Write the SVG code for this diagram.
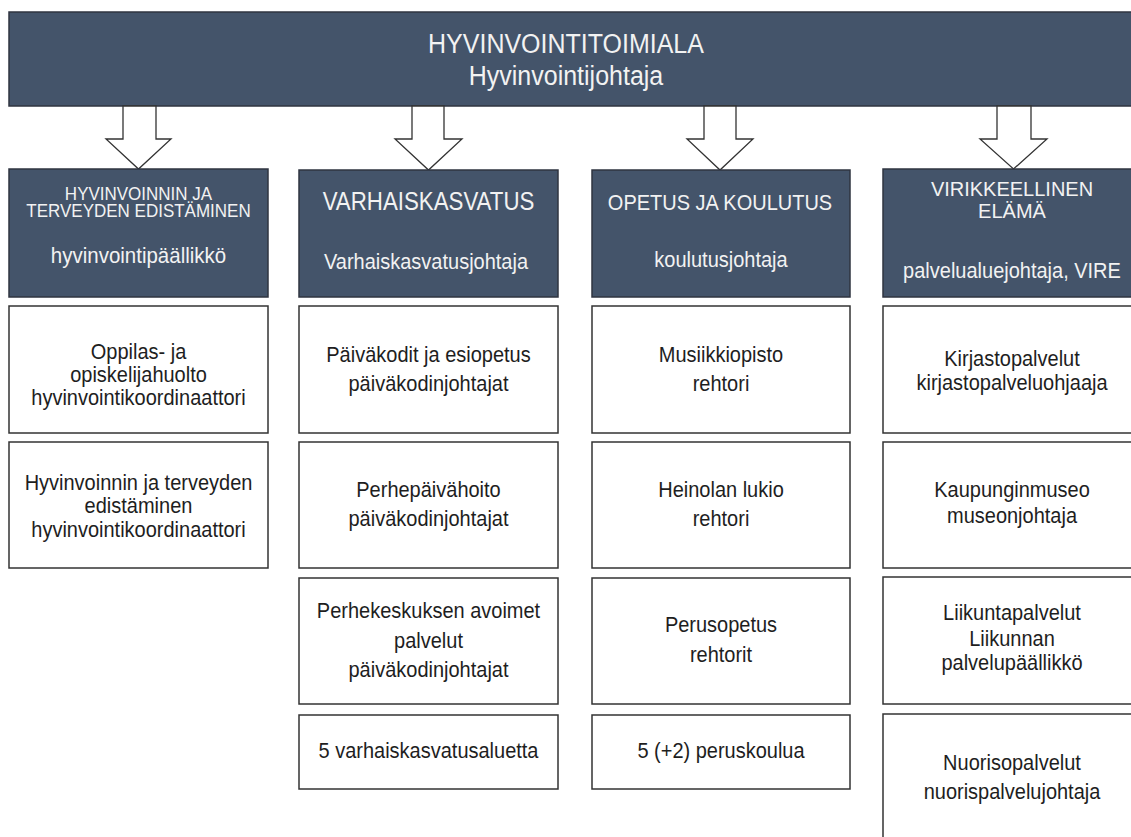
<svg xmlns="http://www.w3.org/2000/svg" width="1131" height="837" viewBox="0 0 1131 837">
<style>
.hdr{fill:#44546a;stroke:#2f3440;stroke-width:1.5}
.box{fill:#ffffff;stroke:#333333;stroke-width:1.5}
.arr{fill:#ffffff;stroke:#333333;stroke-width:1.3;stroke-linejoin:miter}
text{font-family:"Liberation Sans",Arial,sans-serif;text-anchor:middle}
.w{fill:#f2f2f2}
.d{fill:#1e1e1e;font-size:20px}
</style>
<rect width="1131" height="837" fill="#ffffff"/>
<g id="top">
<rect class="hdr" x="9" y="12" width="1135" height="94"/>
<text class="w" transform="matrix(1 0 0 1.12 566 53)" font-size="25">HYVINVOINTITOIMIALA</text>
<text class="w" transform="matrix(1 0 0 1.12 566 85)" font-size="25">Hyvinvointijohtaja</text>
</g>
<g id="connectors">
<polygon class="arr" points="123,106 156,106 156,139 171,139 138.5,169 106,139 123,139"/>
<polygon class="arr" points="412,106 444,106 444,139 462,139 428.5,170 395,139 412,139"/>
<polygon class="arr" points="704,106 736,106 736,139 753,139 720,170 687,139 704,139"/>
<polygon class="arr" points="997,106 1031,106 1031,139 1047,139 1013.5,169 980,139 997,139"/>
</g>
<g id="h1">
<rect class="hdr" x="9" y="169" width="259" height="128"/>
<text class="w" transform="matrix(1 0 0 1.1 138.5 200)" font-size="17">HYVINVOINNIN JA</text>
<text class="w" transform="matrix(1 0 0 1.1 138.5 217)" font-size="17">TERVEYDEN EDISTÄMINEN</text>
<text class="w" transform="matrix(1 0 0 1.12 138.5 263)" font-size="20.5">hyvinvointipäällikkö</text>
</g>
<g id="h2">
<rect class="hdr" x="299" y="170" width="259" height="127"/>
<text class="w" transform="matrix(1 0 0 1.12 428.5 210)" font-size="22.3">VARHAISKASVATUS</text>
<text class="w" transform="matrix(1 0 0 1.12 426 269)" font-size="20">Varhaiskasvatusjohtaja</text>
</g>
<g id="h3">
<rect class="hdr" x="592" y="170" width="258" height="127"/>
<text class="w" transform="matrix(1 0 0 1.12 720 210)" font-size="20">OPETUS JA KOULUTUS</text>
<text class="w" transform="matrix(1 0 0 1.12 721 267)" font-size="20">koulutusjohtaja</text>
</g>
<g id="h4">
<rect class="hdr" x="883" y="169" width="258" height="128"/>
<text class="w" transform="matrix(1 0 0 1.05 1012 196)" font-size="20">VIRIKKEELLINEN</text>
<text class="w" transform="matrix(1 0 0 1.05 1012 218)" font-size="20">ELÄMÄ</text>
<text class="w" transform="matrix(1 0 0 1.12 1012 278)" font-size="20">palvelualuejohtaja, VIRE</text>
</g>
<g id="c1a">
<rect class="box" x="9" y="306" width="259" height="127"/>
<text class="d" transform="matrix(1 0 0 1.12 138.5 359)">Oppilas- ja</text>
<text class="d" transform="matrix(1 0 0 1.12 138.5 382)">opiskelijahuolto</text>
<text class="d" transform="matrix(1 0 0 1.12 138.5 405)">hyvinvointikoordinaattori</text>
</g>
<g id="c1b">
<rect class="box" x="9" y="442" width="259" height="126"/>
<text class="d" transform="matrix(1 0 0 1.12 138.5 490)">Hyvinvoinnin ja terveyden</text>
<text class="d" transform="matrix(1 0 0 1.12 138.5 513)">edistäminen</text>
<text class="d" transform="matrix(1 0 0 1.12 138.5 537)">hyvinvointikoordinaattori</text>
</g>
<g id="c2a">
<rect class="box" x="299" y="306" width="259" height="127"/>
<text class="d" transform="matrix(1 0 0 1.12 428.5 362)">Päiväkodit ja esiopetus</text>
<text class="d" transform="matrix(1 0 0 1.12 428.5 391)">päiväkodinjohtajat</text>
</g>
<g id="c2b">
<rect class="box" x="299" y="442" width="259" height="126"/>
<text class="d" transform="matrix(1 0 0 1.12 428.5 497)">Perhepäivähoito</text>
<text class="d" transform="matrix(1 0 0 1.12 428.5 526)">päiväkodinjohtajat</text>
</g>
<g id="c2c">
<rect class="box" x="299" y="578" width="259" height="126"/>
<text class="d" transform="matrix(1 0 0 1.12 428.5 618)">Perhekeskuksen avoimet</text>
<text class="d" transform="matrix(1 0 0 1.12 428.5 648)">palvelut</text>
<text class="d" transform="matrix(1 0 0 1.12 428.5 677)">päiväkodinjohtajat</text>
</g>
<g id="c2d">
<rect class="box" x="299" y="715" width="259" height="74"/>
<text class="d" transform="matrix(1 0 0 1.12 428.5 758)">5 varhaiskasvatusaluetta</text>
</g>
<g id="c3a">
<rect class="box" x="592" y="306" width="258" height="127"/>
<text class="d" transform="matrix(1 0 0 1.12 721 362)">Musiikkiopisto</text>
<text class="d" transform="matrix(1 0 0 1.12 721 391)">rehtori</text>
</g>
<g id="c3b">
<rect class="box" x="592" y="442" width="258" height="126"/>
<text class="d" transform="matrix(1 0 0 1.12 721 497)">Heinolan lukio</text>
<text class="d" transform="matrix(1 0 0 1.12 721 526)">rehtori</text>
</g>
<g id="c3c">
<rect class="box" x="592" y="578" width="258" height="126"/>
<text class="d" transform="matrix(1 0 0 1.12 721 632)">Perusopetus</text>
<text class="d" transform="matrix(1 0 0 1.12 721 662)">rehtorit</text>
</g>
<g id="c3d">
<rect class="box" x="592" y="715" width="258" height="74"/>
<text class="d" transform="matrix(1 0 0 1.12 721 758)">5 (+2) peruskoulua</text>
</g>
<g id="c4a">
<rect class="box" x="883" y="306" width="258" height="127"/>
<text class="d" transform="matrix(1 0 0 1.12 1012 366)">Kirjastopalvelut</text>
<text class="d" transform="matrix(1 0 0 1.12 1012 390)">kirjastopalveluohjaaja</text>
</g>
<g id="c4b">
<rect class="box" x="883" y="442" width="258" height="126"/>
<text class="d" transform="matrix(1 0 0 1.12 1012 497)">Kaupunginmuseo</text>
<text class="d" transform="matrix(1 0 0 1.12 1012 523)">museonjohtaja</text>
</g>
<g id="c4c">
<rect class="box" x="883" y="577" width="258" height="127"/>
<text class="d" transform="matrix(1 0 0 1.12 1012 620)">Liikuntapalvelut</text>
<text class="d" transform="matrix(1 0 0 1.12 1012 646)">Liikunnan</text>
<text class="d" transform="matrix(1 0 0 1.12 1012 670)">palvelupäällikkö</text>
</g>
<g id="c4d">
<rect class="box" x="883" y="714" width="258" height="140"/>
<text class="d" transform="matrix(1 0 0 1.12 1012 770)">Nuorisopalvelut</text>
<text class="d" transform="matrix(1 0 0 1.12 1012 799)">nuorispalvelujohtaja</text>
</g>
</svg>
